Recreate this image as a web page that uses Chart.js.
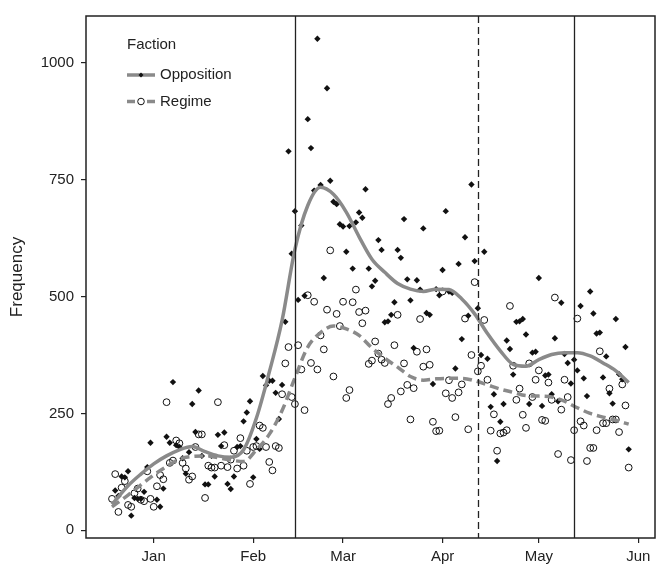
<!DOCTYPE html>
<html>
<head>
<meta charset="utf-8">
<title>Faction frequency</title>
<script src="https://cdn.jsdelivr.net/npm/chart.js@4.4.1/dist/chart.umd.min.js"></script>
<style>
  html, body { margin: 0; padding: 0; background: #fff; }
  #wrap { width: 657px; height: 565px; overflow: hidden; }
</style>
</head>
<body>
<div id="wrap"><canvas id="myChart" width="660" height="565"></canvas></div>
<script>
// days are counted from 1 January (day 0)
const monthTicks = [0, 31, 59, 90, 120, 151];
const monthLabels = ['Jan', 'Feb', 'Mar', 'Apr', 'May', 'Jun'];
const freqTicks = [0, 250, 500, 750, 1000];

// vertical event markers (Feb 14, Apr 12, May 12)
const eventDays = [44, 101, 131];
const eventDashed = [false, true, false];

// daily counts - Opposition starts on day -12, Regime on day -13
const oppFirstDay = -12;
const oppCounts = [
  85, 73, 115, 113, 126, 31, 69, 67, 67, 82, 135, 187, null, 65, 50, 89,
  200, 187, 317, 182, 178, 154, 121, 167, 270, 210, 299, 159, 98, 98, 159,
  115, 204, 180, 209, 99, 88, 115, 178, 180, 233, 252, 276, 113, 195, 174,
  330, 310, 320, 320, 294, 238, 311, 446, 811, 592, 683, 493, 652, 502,
  880, 818, 727, 1052, 739, 540, 946, 748, 703, 698,
  655, 650, 596, 651, 560, 659, 680, 669, 730, 560,
  522, 534, 621, 600, 445, 447, 461, 488, 600, 583,
  666, 537, 492, 390, 535, 515, 646, 465, 461, 313,
  516, 503, 557, 683, 511, 508, 346, 570, 409, 627,
  459, 740, 576, 475, 375, 596, 367, 264, 291, 148,
  232, 270, 406, 388, 333, 446, 447, 452, 419, 270,
  380, 382, 540, 266, 331, 333, 291, 411, 276, 487,
  377, 358, 314, 365, 342, 480, 325, 287, 511, 464,
  421, 423, 327, 372, 293, 271, 452, 334, 323, 392,
  173
];
const regFirstDay = -13;
const regCounts = [
  67, 120, 39, 91, 105, 54, 50, 79, 89, 65,
  62, 126, 67, 50, 94, 118, 109, 274, 144, 149,
  192, 186, 144, 132, 108, 115, 178, 205, 205, 69,
  138, 134, 134, 274, 138, 182, 135, 151, 170, 132,
  197, 138, 170, 99, 178, 180, 224, 219, 178, 146,
  128, 180, 176, 291, 357, 392, 285, 270, 396, 344,
  257, 503, 358, 489, 344, 417, 387, 472, 599, 329,
  463, 437, 489, 283, 300, 488, 515, 467, 443, 470,
  356, 363, 404, 378, 365, 358, 270, 283, 396, 461,
  297, 357, 311, 237, 304, 382, 452, 350, 387, 354,
  232, 212, 213, 511, 293, 321, 283, 242, 295, 312,
  453, 216, 375, 531, 340, 352, 450, 322, 213, 248,
  170, 207, 209, 214, 480, 352, 279, 303, 247, 219,
  357, 285, 322, 342, 236, 234, 316, 279, 498, 163,
  258, 322, 285, 150, 214, 453, 233, 224, 148, 176,
  176, 214, 383, 229, 229, 303, 237, 237, 210, 312,
  267, 134
];

// smoothed trends
const trendDays = [-13, -8, -4, 0, 4, 8, 12, 16, 20, 24, 28, 32, 36, 40, 44, 48, 52, 56, 60, 64,
  68, 72, 76, 80, 84, 88, 92, 96, 100, 104, 108, 112, 116, 120, 124, 128, 132, 136, 140, 144, 148];
const oppTrend = [55, 95, 120, 142, 159, 172, 179, 168, 159, 156, 172, 240, 338, 449, 601, 695, 734, 719, 681, 628,
  580, 552, 528, 516, 511, 516, 515, 495, 463, 421, 384, 355, 351, 365, 376, 380, 380, 373, 358, 341, 316];
const regTrend = [50, 75, 97, 118, 136, 152, 158, 159, 155, 150, 147, 172, 205, 256, 326, 392, 423, 437, 431, 417,
  390, 368, 349, 329, 321, 324, 325, 325, 320, 311, 302, 295, 288, 287, 285, 276, 262, 250, 242, 235, 227];

const grey = '#8a8a8a';
const ink = '#222222';
const fontFamily = '"Liberation Sans", Arial, Helvetica, sans-serif';

function toPoints(first, counts) {
    const pts = [];
    counts.forEach((v, i) => {
        if (v !== null) pts.push({ x: first + i, y: v });
    });
    return pts;
}

function trendPoints(values) {
    return trendDays.map((d, i) => ({ x: d, y: values[i] }));
}

// frame, event lines and the legend box drawn on the canvas
const extras = {
    id: 'extras',
    afterDatasetsDraw(chart) {
        const c = chart.ctx;
        const area = chart.chartArea;
        const xs = chart.scales.x;
        c.save();
        c.strokeStyle = ink;
        c.lineWidth = 1.3;
        eventDays.forEach((d, i) => {
            const px = Math.round(xs.getPixelForValue(d)) + 0.5;
            c.setLineDash(eventDashed[i] ? [7, 4] : []);
            c.beginPath();
            c.moveTo(px, area.top);
            c.lineTo(px, area.bottom);
            c.stroke();
        });
        c.restore();
    },
    afterDraw(chart) {
        const c = chart.ctx;
        const area = chart.chartArea;
        c.save();
        c.strokeStyle = ink;
        c.lineWidth = 1.5;
        c.strokeRect(area.left, area.top, area.right - area.left, area.bottom - area.top);

        // legend
        c.fillStyle = ink;
        c.font = '15px ' + fontFamily;
        c.textBaseline = 'middle';
        c.textAlign = 'left';
        c.fillText('Faction', 127, 45);
        c.fillText('Opposition', 160, 75);
        c.fillText('Regime', 160, 101.5);

        c.strokeStyle = grey;
        c.lineWidth = 3.5;
        c.beginPath();
        c.moveTo(127, 75);
        c.lineTo(155, 75);
        c.stroke();
        c.fillStyle = '#111';
        c.beginPath();
        c.moveTo(141, 72.5);
        c.lineTo(143.5, 75);
        c.lineTo(141, 77.5);
        c.lineTo(138.5, 75);
        c.closePath();
        c.fill();

        c.beginPath();
        c.moveTo(127, 101.5);
        c.lineTo(135, 101.5);
        c.moveTo(147, 101.5);
        c.lineTo(155, 101.5);
        c.stroke();
        c.strokeStyle = '#111';
        c.lineWidth = 1;
        c.fillStyle = '#fff';
        c.beginPath();
        c.arc(141, 101.5, 3.3, 0, Math.PI * 2);
        c.fill();
        c.stroke();
        c.restore();
    }
};

let ctx = document.getElementById('myChart').getContext('2d');
let myChart = new Chart(ctx, {
    type: 'scatter',
    data: {
        datasets: [
            {
                label: 'Opposition',
                data: toPoints(oppFirstDay, oppCounts),
                pointStyle: 'rectRot',
                pointRadius: 3.2,
                backgroundColor: '#111',
                borderColor: '#111',
                borderWidth: 0,
                order: 2
            },
            {
                label: 'Regime',
                data: toPoints(regFirstDay, regCounts),
                pointStyle: 'circle',
                pointRadius: 3.4,
                backgroundColor: 'rgba(0,0,0,0)',
                borderColor: '#111',
                borderWidth: 1,
                order: 2
            },
            {
                label: 'Opposition trend',
                data: trendPoints(oppTrend),
                showLine: true,
                pointRadius: 0,
                borderColor: grey,
                borderWidth: 3.5,
                cubicInterpolationMode: 'monotone',
                order: 1
            },
            {
                label: 'Regime trend',
                data: trendPoints(regTrend),
                showLine: true,
                pointRadius: 0,
                borderColor: grey,
                borderWidth: 3.5,
                borderDash: [9, 5],
                cubicInterpolationMode: 'monotone',
                order: 1
            }
        ]
    },
    options: {
        responsive: false,
        animation: false,
        devicePixelRatio: 1,
        layout: { padding: { top: 12, left: 0, right: 0, bottom: 0 } },
        plugins: {
            legend: { display: false },
            tooltip: { enabled: false }
        },
        scales: {
            x: {
                type: 'linear',
                min: -21.1,
                max: 156.2,
                afterBuildTicks: (s) => { s.ticks = monthTicks.map(v => ({ value: v })); },
                afterFit: (s) => { s.height = 27; },
                ticks: {
                    callback: (v) => monthLabels[monthTicks.indexOf(v)],
                    font: { family: fontFamily, size: 15 },
                    color: ink,
                    padding: 5,
                    maxRotation: 0,
                    autoSkip: false
                },
                grid: { drawOnChartArea: false, drawTicks: true, tickLength: 5, color: ink, lineWidth: 1.2 },
                border: { display: false }
            },
            y: {
                type: 'linear',
                min: -16.8,
                max: 1100.8,
                afterBuildTicks: (s) => { s.ticks = freqTicks.map(v => ({ value: v })); },
                afterFit: (s) => { s.width = 86; },
                ticks: {
                    callback: (v) => String(v),
                    font: { family: fontFamily, size: 15 },
                    color: ink,
                    padding: 7
                },
                title: {
                    display: true,
                    text: 'Frequency',
                    font: { family: fontFamily, size: 17 },
                    color: ink,
                    padding: { top: 7, bottom: 0 }
                },
                grid: { drawOnChartArea: false, drawTicks: true, tickLength: 5, color: ink, lineWidth: 1.2 },
                border: { display: false }
            }
        }
    },
    plugins: [extras]
});
</script>
</body>
</html>
